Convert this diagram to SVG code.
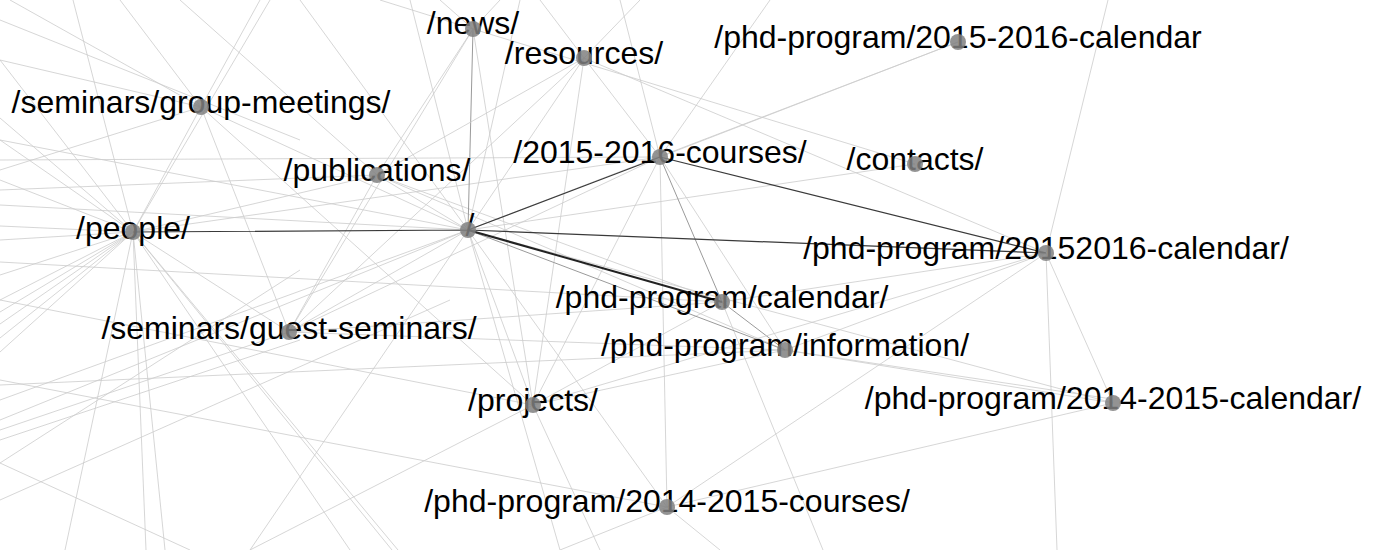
<svg xmlns="http://www.w3.org/2000/svg" width="1377" height="550" viewBox="0 0 1377 550">
<style>
.e{stroke:#cbcbcb;stroke-width:0.8;fill:none}
.m{stroke:#9a9a9a;stroke-width:1;fill:none}
.d{stroke:#3a3a3a;stroke-width:1.2;fill:none}
.D{stroke:#222;stroke-width:2;fill:none}
.n circle{fill:#808080;fill-opacity:0.85}
.n text{font-family:"Liberation Sans",Arial,sans-serif;font-size:32px;fill:#000;text-anchor:middle}
</style>
<rect width="1377" height="550" fill="#fff"/>
<g id="connectors">
<!-- people -->
<path class="e" d="M133 232L0 300M133 232L0 312M133 232L0 324M133 232L0 338M133 232L0 352M133 232L0 275M133 232L0 118M133 232L0 140M133 232L0 180M133 232L0 226M133 232L0 240M133 232L73 0M133 232L146 550M133 232L165 550M133 232L65 550M133 232L392 550M133 232L398 550M133 232L350 550M133 232L270 0M133 232L201 107M133 232L289 332M133 232L377 175M133 232L660 157M133 232L0 60"/>
<!-- group meetings -->
<path class="e" d="M201 107L10 0M201 107L120 0M201 107L0 60M201 107L260 0M201 107L468 230M201 107L289 332M201 107L533 405M201 107L0 170"/>
<!-- publications -->
<path class="e" d="M377 175L468 230M377 175L180 0M377 175L722 302M377 175L785 350M377 175L289 332M377 175L0 190M377 175L473 29"/>
<!-- root -->
<path class="e" d="M468 230L584 58M468 230L289 332M468 230L533 405M468 230L915 164M468 230L958 42M468 230L0 140M468 230L0 400M468 230L0 420M468 230L300 0M468 230L410 0M468 230L560 550M468 230L520 0M468 230L667 507M468 230L1113 403M468 230L250 550M468 230L0 205"/>
<path class="m" d="M468 230L473 29"/>
<!-- news / resources -->
<path class="e" d="M473 29L915 164M473 29L440 0M473 29L500 0M473 29L380 0M473 29L533 405M473 29L289 332M584 58L660 157M584 58L533 405M584 58L1046 253M584 58L540 0M584 58L640 0M584 58L289 332M584 58L377 175"/>
<!-- courses -->
<path class="e" d="M660 157L785 350M660 157L667 507M660 157L533 405M660 157L289 332M660 157L620 0M660 157L770 0M660 157L0 160M660 157L958 42"/>
<path class="m" d="M660 157L722 302"/>
<!-- calendar / information -->
<path class="e" d="M722 302L823 550M722 302L533 405M722 302L289 332M722 302L1046 253M722 302L0 262M785 350L1113 403M785 350L1112 399M785 350L533 405M785 350L289 332M785 350L1046 253M785 350L0 385"/>
<path class="m" d="M722 302L785 350M468 230L785 350"/>
<!-- projects / courses 2014 -->
<path class="e" d="M533 405L600 550M533 405L250 550M533 405L1046 253M533 405L0 300M667 507L560 550M667 507L720 550M667 507L1046 253M667 507L1113 403M667 507L0 380"/>
<!-- right side -->
<path class="e" d="M1046 253L1108 0M1046 253L1057 550M1046 253L1113 403"/>
<!-- free lines -->
<path class="e" d="M0 20L300 140M0 463L190 550M0 463L300 270M0 430L289 332M0 440L300 340M0 500L450 300"/>
<!-- dark edges -->
<path class="d" d="M468 230L133 232M468 230L660 157M468 230L1046 253M660 157L1046 253"/>
<path class="D" d="M468 230L722 302"/>
</g>
<g id="node-news" class="n"><text x="473" y="34">/news/</text><circle cx="473" cy="29" r="8"/></g>
<g id="node-resources" class="n"><text x="584" y="64">/resources/</text><circle cx="584" cy="58" r="8"/></g>
<g id="node-cal-2015-2016" class="n"><text x="958" y="48">/phd-program/2015-2016-calendar</text><circle cx="958" cy="42" r="8"/></g>
<g id="node-group-meetings" class="n"><text x="201" y="113">/seminars/group-meetings/</text><circle cx="201" cy="107" r="8"/></g>
<g id="node-courses-2015-2016" class="n"><text x="660" y="163">/2015-2016-courses/</text><circle cx="660" cy="157" r="8"/></g>
<g id="node-contacts" class="n"><text x="915" y="170">/contacts/</text><circle cx="915" cy="164" r="8"/></g>
<g id="node-publications" class="n"><text x="377" y="181">/publications/</text><circle cx="377" cy="175" r="8"/></g>
<g id="node-root" class="n"><text x="470" y="236">/</text><circle cx="468" cy="230" r="8"/></g>
<g id="node-people" class="n"><text x="133" y="239">/people/</text><circle cx="133" cy="232" r="8"/></g>
<g id="node-cal-20152016" class="n"><text x="1046" y="259">/phd-program/20152016-calendar/</text><circle cx="1046" cy="253" r="8"/></g>
<g id="node-calendar" class="n"><text x="722" y="308">/phd-program/calendar/</text><circle cx="722" cy="302" r="8"/></g>
<g id="node-guest-seminars" class="n"><text x="289" y="339">/seminars/guest-seminars/</text><circle cx="289" cy="332" r="8"/></g>
<g id="node-information" class="n"><text x="785" y="356">/phd-program/information/</text><circle cx="785" cy="350" r="8"/></g>
<g id="node-projects" class="n"><text x="533" y="411">/projects/</text><circle cx="533" cy="405" r="8"/></g>
<g id="node-cal-2014-2015" class="n"><text x="1113" y="409">/phd-program/2014-2015-calendar/</text><circle cx="1113" cy="403" r="8"/></g>
<g id="node-courses-2014-2015" class="n"><text x="667" y="512">/phd-program/2014-2015-courses/</text><circle cx="667" cy="507" r="8"/></g>
</svg>
